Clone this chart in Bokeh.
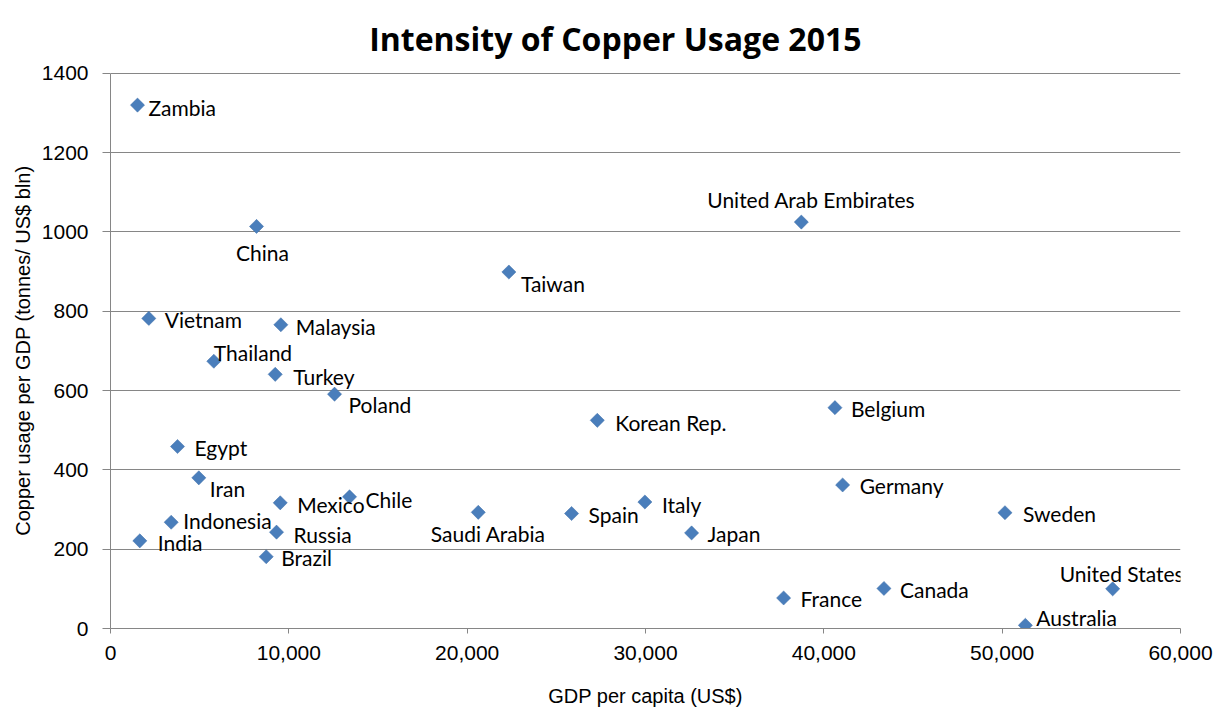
from bokeh.plotting import figure
from bokeh.models import ColumnDataSource, FixedTicker, NumeralTickFormatter, Range1d, Label
from bokeh.core.properties import value
from bokeh.embed import file_html
from bokeh.resources import INLINE
import math

# ---- data ----
countries = ["Zambia", "China", "United Arab Embirates", "Taiwan", "Vietnam", "Malaysia",
             "Thailand", "Turkey", "Poland", "Korean Rep.", "Belgium", "Egypt", "Iran",
             "Mexico", "Chile", "Germany", "Indonesia", "Russia", "India", "Brazil",
             "Saudi Arabia", "Spain", "Italy", "Japan", "Sweden", "France", "Canada",
             "United States", "Australia"]
gdp_per_capita = [1514, 8188, 38738, 22339, 2148, 9552,
                  5794, 9237, 12563, 27297, 40623, 3758, 4952,
                  9518, 13404, 41054, 3404, 9310, 1643, 8732,
                  20622, 25855, 29966, 32585, 50157, 37745, 43371,
                  56197, 51301]
copper_intensity = [1320, 1014, 1025, 899, 782, 766,
                    674, 641, 591, 525, 557, 459, 380,
                    317, 332, 362, 268, 243, 221, 181,
                    293, 290, 319, 241, 292, 77, 101,
                    100, 8]
x_ticks = [0, 10000, 20000, 30000, 40000, 50000, 60000]
y_ticks = [0, 200, 400, 600, 800, 1000, 1200, 1400]
title_text = "Intensity of  Copper Usage 2015"
x_title = "GDP per capita (US$)"
y_title = "Copper usage per GDP (tonnes/ US$ bln)"

# ---- layout (pixels) ----
W, H = 1218, 709
frame_left, frame_right, frame_top, frame_bottom = 110, 1180, 73, 629
y_max = 1400
# the frame is extended up to the canvas top so the title can sit inside it;
# the visible y axis is bounded to 0..1400
y_top = y_max * frame_bottom / (frame_bottom - frame_top)
px_per_x = (frame_right - frame_left) / 60000
px_per_y = (frame_bottom - frame_top) / y_max
# trailing no-break spaces re-centre the y title on the 0..1400 part of the axis
y_title_pad = "\u00a0" * 13

# label placement (screen pixels)
label_dx = [11, 6, 10, 12, 16, 15, 0, 18, 14, 18, 16, 17, 11,
            17, 16, 17, 12, 17, 18, 15, 10, 17, 17, 16, 18, 17, 16, 9, 11]
label_dy = [2, 26, -23, 11, 1, 2, -9, 2, 10, 2, 1, 1, 11,
            2, 3, 1, -2, 2, 2, 1, 21, 1, 2, 1, 1, 1, 1, -15, -8]
label_align = ["left", "center", "center", "left", "left", "left", "left", "left", "left",
               "left", "left", "left", "left", "left", "left", "left", "left", "left",
               "left", "left", "center", "left", "left", "left", "left", "left", "left",
               "center", "left"]

src = ColumnDataSource(dict(x=gdp_per_capita, y=copper_intensity, name=countries,
                            dx=label_dx, dy=label_dy, align=label_align))

p = figure(width=W, height=H, output_backend="svg", toolbar_location=None,
           x_range=Range1d(0, 60000), y_range=Range1d(0, y_top),
           min_border_left=frame_left, min_border_right=W - frame_right,
           min_border_top=0, min_border_bottom=H - frame_bottom)

p.title.text = ""
p.outline_line_color = None
p.background_fill_color = "white"
p.border_fill_color = "white"

p.xgrid.visible = False
p.ygrid.grid_line_color = "#868686"
p.ygrid.grid_line_width = 1
p.ygrid.ticker = FixedTicker(ticks=y_ticks)

for ax in (p.xaxis[0], p.yaxis[0]):
    ax.axis_line_color = "#868686"
    ax.major_tick_line_color = "#868686"
    ax.minor_tick_line_color = None
    ax.major_tick_in = 0
    ax.major_label_text_font = "Liberation Sans"
    ax.major_label_text_font_size = "21px"
    ax.major_label_text_color = "#000000"
    ax.axis_label_text_font = "Liberation Sans"
    ax.axis_label_text_font_size = "20px"
    ax.axis_label_text_font_style = "normal"
    ax.axis_label_text_color = "#000000"

p.xaxis.ticker = FixedTicker(ticks=x_ticks)
p.xaxis.formatter = NumeralTickFormatter(format="0,0")
p.xaxis.major_tick_out = 5
p.xaxis.major_label_standoff = 12
p.xaxis.axis_label = x_title
p.xaxis.axis_label_standoff = 22

p.yaxis.ticker = FixedTicker(ticks=y_ticks)
p.yaxis.bounds = (0, y_max)
p.yaxis.major_tick_out = 8
p.yaxis.major_label_standoff = 14
p.yaxis.axis_label = y_title + y_title_pad
p.yaxis.axis_label_standoff = 5

p.scatter("x", "y", source=src, marker="square", size=10, angle=math.pi / 4,
          fill_color="#4a7ebb", line_color="#3f6fa8", line_width=0.5)

p.text("x", "y", text="name", source=src, x_offset="dx", y_offset="dy",
       text_align="align", text_baseline="middle",
       text_font=value("Lato"), text_font_size="21px", text_color="#000000")

# chart title: centred at x=619 px, baseline at y=38 px of the canvas
p.add_layout(Label(x=(619 - frame_left) / px_per_x, y=(frame_bottom - 38) / px_per_y,
                   text=title_text, text_align="center", text_baseline="alphabetic",
                   text_font="Open Sans", text_font_style="bold", text_font_size="32px",
                   text_color="#000000"))

open("out.html", "w").write(file_html(p, INLINE))
